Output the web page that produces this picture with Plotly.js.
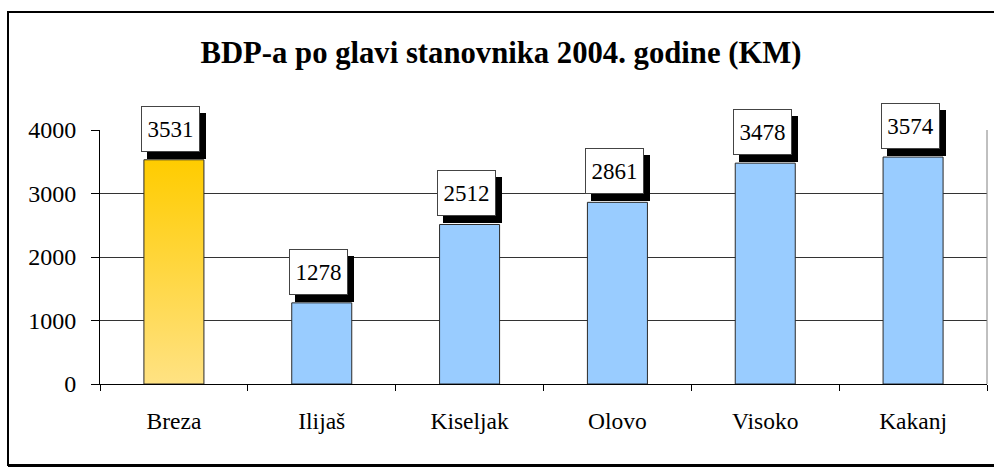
<!DOCTYPE html>
<html>
<head>
<meta charset="utf-8">
<script src="https://cdn.plot.ly/plotly-3.0.1.min.js"></script>
<style>
html,body{margin:0;padding:0;background:#fff;}
#chart{width:994px;height:468px;}
</style>
</head>
<body>
<div id="chart"></div>
<script>
const categories = ["Breza", "Ilijaš", "Kiseljak", "Olovo", "Visoko", "Kakanj"];
const values = [3531, 1278, 2512, 2861, 3478, 3574];
const barColors = ["#FFD633", "#99CCFF", "#99CCFF", "#99CCFF", "#99CCFF", "#99CCFF"];
const yTicks = [0, 1000, 2000, 3000, 4000];
const titleText = "BDP-a po glavi stanovnika 2004. godine (KM)";

const serif = "Liberation Serif";

const trace = {
  type: "bar",
  x: categories,
  y: values,
  marker: { color: barColors, line: { color: "#2a2a2a", width: 1 } },
  hoverinfo: "none"
};

const annotations = [];
categories.forEach((c, i) => {
  // shadow (blank box)
  annotations.push({
    x: c, y: values[i], xref: "x", yref: "y",
    text: "&nbsp;", showarrow: false,
    xanchor: "center", yanchor: "bottom",
    xshift: 3, yshift: 1,
    width: 57, height: 44,
    bgcolor: "#000", bordercolor: "#000", borderwidth: 1, borderpad: 0,
    font: { family: serif, size: 23, color: "#000" }
  });
  // label box
  annotations.push({
    x: c, y: values[i], xref: "x", yref: "y",
    text: String(values[i]), showarrow: false,
    xanchor: "center", yanchor: "bottom",
    xshift: -3, yshift: 8,
    width: 57, height: 44,
    bgcolor: "#fff", bordercolor: "#444", borderwidth: 1, borderpad: 0,
    font: { family: serif, size: 23, color: "#000" }
  });
});

const layout = {
  width: 994, height: 468,
  margin: { l: 100, r: 7, t: 130, b: 84, pad: 0 },
  paper_bgcolor: "#fff", plot_bgcolor: "#fff",
  showlegend: false,
  bargap: 0.594,
  title: {
    text: "<b>" + titleText + "</b>",
    font: { family: serif, size: 30.7, color: "#000" },
    xref: "container", yref: "container",
    x: 0.504, xanchor: "center",
    y: 1 - 52 / 468, yanchor: "middle"
  },
  xaxis: {
    type: "category",
    tickson: "boundaries",
    ticks: "outside", ticklen: 6, tickcolor: "#000", tickwidth: 1,
    showline: true, linecolor: "#000", linewidth: 1,
    showgrid: false,
    tickfont: { family: serif, size: 23.5, color: "#000" },
    ticklabelstandoff: 16,
    fixedrange: true
  },
  yaxis: {
    range: [0, 4000],
    tickvals: yTicks,
    ticktext: yTicks.map(String),
    ticks: "outside", ticklen: 8, tickcolor: "#000", tickwidth: 1,
    showline: true, linecolor: "#000", linewidth: 1,
    showgrid: true, gridcolor: "#333", gridwidth: 1,
    zeroline: false,
    tickfont: { family: serif, size: 24, color: "#000" },
    ticklabelstandoff: 10,
    fixedrange: true
  },
  annotations: annotations,
  shapes: [
    { type: "line", xref: "paper", yref: "paper", x0: 1, x1: 1, y0: 0, y1: 1,
      line: { color: "#808080", width: 1 } },
    { type: "rect", xref: "paper", yref: "paper",
      x0: (8 - 100) / 887, x1: (1010 - 100) / 887,
      y0: (384 - 465) / 254, y1: (384 - 12) / 254,
      line: { color: "#000", width: 2 }, layer: "below" },
    { type: "line", xref: "paper", yref: "paper",
      x0: (8 - 100) / 887, x1: (1010 - 100) / 887,
      y0: (384 - 465.5) / 254, y1: (384 - 465.5) / 254,
      line: { color: "#000", width: 3 } }
  ]
};

Plotly.newPlot("chart", [trace], layout, { displayModeBar: false, staticPlot: true }).then(gd => {
  const svg = gd.querySelector("svg.main-svg");
  const ns = "http://www.w3.org/2000/svg";
  let defs = svg.querySelector("defs");
  if (!defs) { defs = document.createElementNS(ns, "defs"); svg.insertBefore(defs, svg.firstChild); }
  const grad = document.createElementNS(ns, "linearGradient");
  grad.setAttribute("id", "gold-grad");
  grad.setAttribute("x1", "0"); grad.setAttribute("y1", "0");
  grad.setAttribute("x2", "0"); grad.setAttribute("y2", "1");
  [["0", "#FFCC00"], ["1", "#FFE283"]].forEach(([o, c]) => {
    const s = document.createElementNS(ns, "stop");
    s.setAttribute("offset", o); s.setAttribute("stop-color", c);
    grad.appendChild(s);
  });
  defs.appendChild(grad);
  const paths = gd.querySelectorAll(".barlayer .point path");
  if (paths.length) paths[0].style.fill = "url(#gold-grad)";
});
</script>
</body>
</html>
